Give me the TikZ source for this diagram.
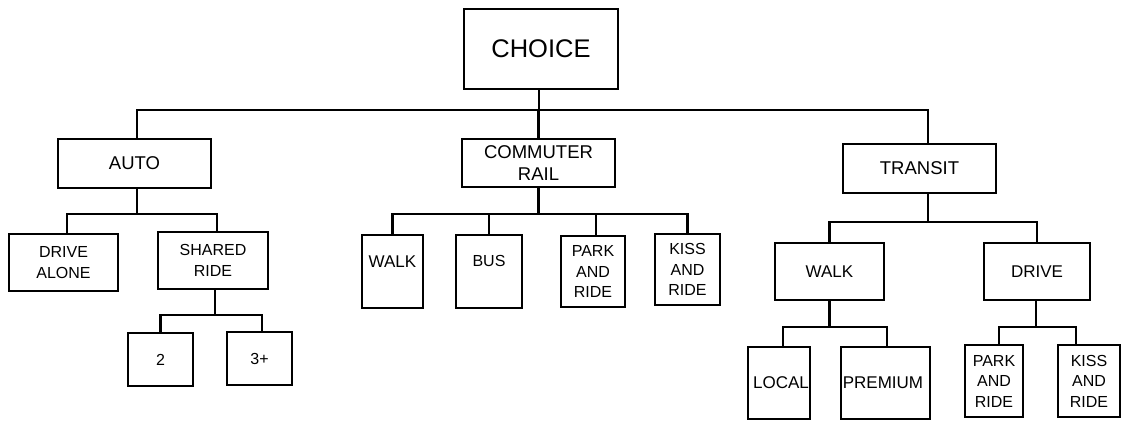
\documentclass[tikz,border=0pt]{standalone}
\usepackage{fontspec}
\setmainfont{Liberation Sans}
% font sizes for the tree levels
\newcommand\fchoice{\fontsize{25.5}{30}\selectfont}
\newcommand\flevtwo{\fontsize{18.5}{22}\selectfont}
\newcommand\flevthree{\fontsize{16}{20.5}\selectfont}
\newcommand\flevfour{\fontsize{17}{20.5}\selectfont}
\tikzset{
  box/.style={draw, line width=2.6pt, inner sep=0pt, align=center, fill=white},
  link/.style={line width=2.4pt, line cap=rect},
}
\begin{document}
\begin{tikzpicture}[x=1pt, y=-1pt]
\fill[white] (0,0) rectangle (1121,421);
\useasboundingbox (0,0) rectangle (1121,421);

% root
\node[box, minimum width=154, minimum height=80, font=\fchoice] (choice) at (541,49) {CHOICE};

% main modes
\node[box, minimum width=153, minimum height=49, font=\flevtwo] (auto) at (134.5,163.5) {AUTO};
\node[box, minimum width=153, minimum height=48, font=\flevtwo] (rail) at (538.5,163) {COMMUTER\\RAIL};
\node[box, minimum width=153, minimum height=49, font=\flevtwo] (transit) at (919.5,168.5) {TRANSIT};

% auto branch
\node[box, minimum width=109, minimum height=57, font=\flevthree] (alone) at (63.5,262.5) {DRIVE\\ALONE};
\node[box, minimum width=110, minimum height=57, font=\flevthree] (shared) at (213,260.5) {SHARED\\RIDE};
\node[box, minimum width=65, minimum height=53, font=\flevthree] (two) at (160.5,359.5) {2};
\node[box, minimum width=65, minimum height=53, font=\flevthree] (three) at (259.5,358.5) {3+};

% commuter rail access modes
\node[box, minimum width=61, minimum height=73, font=\flevfour] (rwalk) at (392.5,271.5) {WALK\\\mbox{}};
\node[box, minimum width=66, minimum height=73, font=\flevthree] (rbus) at (489,271.5) {BUS\\\mbox{}};
\node[box, minimum width=64, minimum height=71, font=\flevthree] (rpark) at (593,271.5) {PARK\\AND\\RIDE};
\node[box, minimum width=65, minimum height=71, font=\flevthree] (rkiss) at (687.5,269.5) {KISS\\AND\\RIDE};

% transit branch
\node[box, minimum width=109, minimum height=57, font=\flevfour] (twalk) at (829.5,271.5) {WALK};
\node[box, minimum width=106, minimum height=57, font=\flevfour] (tdrive) at (1037,271.5) {DRIVE};
\node[box, minimum width=62, minimum height=72, font=\flevfour] (local) at (779,383) {\hspace*{4pt}LOCAL};
\node[box, minimum width=89, minimum height=72, font=\flevfour] (premium) at (885.5,383) {PREMIUM\hspace*{5pt}};
\node[box, minimum width=58, minimum height=72, font=\flevthree] (tpark) at (994,381) {PARK\\AND\\RIDE};
\node[box, minimum width=62, minimum height=72, font=\flevthree] (tkiss) at (1089,381) {KISS\\AND\\RIDE};

% heights of the connecting bars
\coordinate (b1) at (0,110);
\coordinate (b2) at (0,214);
\coordinate (b3) at (0,222);
\coordinate (b4) at (0,315);
\coordinate (b5) at (0,327);

% root to main modes
\draw[link] ([xshift=-2]choice.south) -- ([xshift=-2]choice.south |- b1);
\draw[link] ([xshift=2.5]auto.north) |- ([xshift=8.5]transit.north |- b1) -- ([xshift=8.5]transit.north);
\draw[link] (rail.north) -- (rail.north |- b1);

% auto
\draw[link] ([xshift=2.5]auto.south) -- ([xshift=2.5]auto.south |- b2);
\draw[link] ([xshift=3.5]alone.north) |- ([xshift=4]shared.north |- b2) -- ([xshift=4]shared.north);
\draw[link] ([xshift=2]shared.south) -- ([xshift=2]shared.south |- b4);
\draw[link] (two.north) |- ([xshift=2.5]three.north |- b4) -- ([xshift=2.5]three.north);

% commuter rail
\draw[link] (rail.south) -- (rail.south |- b2);
\draw[link] (rwalk.north) |- (rkiss.north |- b2) -- (rkiss.north);
\draw[link] (rbus.north) -- (rbus.north |- b2);
\draw[link] ([xshift=3]rpark.north) -- ([xshift=3]rpark.north |- b2);

% transit
\draw[link] ([xshift=8.5]transit.south) -- ([xshift=8.5]transit.south |- b3);
\draw[link] (twalk.north) |- (tdrive.north |- b3) -- (tdrive.north);
\draw[link] (twalk.south) -- (twalk.south |- b5);
\draw[link] ([xshift=4]local.north) |- ([xshift=1.5]premium.north |- b5) -- ([xshift=1.5]premium.north);
\draw[link] ([xshift=-1]tdrive.south) -- ([xshift=-1]tdrive.south |- b5);
\draw[link] ([xshift=5]tpark.north) |- ([xshift=-13]tkiss.north |- b5) -- ([xshift=-13]tkiss.north);
\end{tikzpicture}
\end{document}
